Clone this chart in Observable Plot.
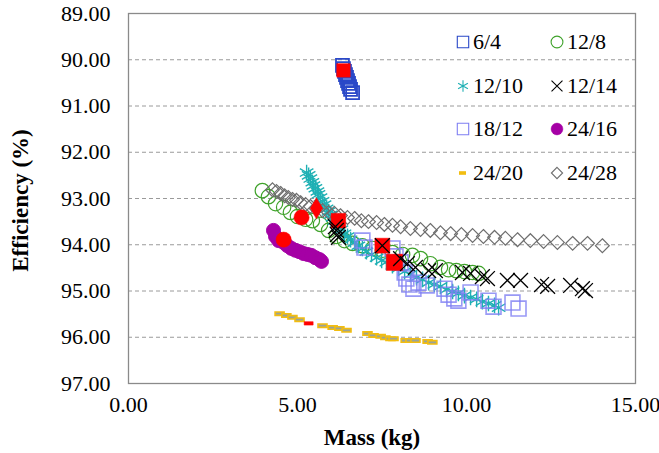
<!DOCTYPE html>
<html><head><meta charset="utf-8">
<script src="https://cdn.jsdelivr.net/npm/d3@7"></script>
<script src="https://cdn.jsdelivr.net/npm/@observablehq/plot@0.6"></script>
<style>
body{margin:0;background:#fff;}
#wrap{position:relative;width:659px;height:453px;font-family:"Liberation Serif","Times New Roman",serif;}
#legend{position:absolute;left:455px;top:20px;display:grid;grid-template-columns:94px 94px;grid-auto-rows:43.7px;font-size:22px;color:#000;font-family:"Liberation Serif","Times New Roman",serif;}
#legend .it{display:flex;align-items:center;}
#legend svg{display:block;margin-right:2px;}
</style></head><body><div id="wrap"></div>
<script>
// ---- data ----
const seriesNames = ["6/4","12/8","12/10","12/14","18/12","24/16","24/20","24/28"];
const xTicks = [0,5,10,15];
const yTicks = [89,90,91,92,93,94,95,96,97];

const mass_6_4 = [6.33,6.36,6.39,6.42,6.45,6.48,6.51,6.54,6.57,6.63];
const eff_6_4  = [90.12,90.19,90.25,90.32,90.38,90.45,90.51,90.58,90.64,90.71];

const mass_12_8 = [3.96,4.14,4.35,4.59,4.79,5.00,5.24,5.44,5.68,5.92,6.15,6.39,6.63,6.92,7.22,7.51,7.81,8.11,8.40,8.64,8.93,9.23,9.47,9.70,9.94,10.18,10.36];
const eff_12_8  = [92.83,92.96,93.11,93.19,93.30,93.39,93.45,93.48,93.56,93.69,93.82,93.91,93.97,94.02,94.08,94.12,94.17,94.21,94.23,94.30,94.41,94.49,94.54,94.56,94.58,94.60,94.62];

const mass_12_10 = [5.27,5.33,5.38,5.44,5.47,5.53,5.59,5.62,5.68,5.74,5.80,5.86,5.92,5.98,6.04,6.09,6.15,6.21,6.30,6.39,6.48,6.57,6.69,6.80,6.92,7.04,7.19,7.34,7.49,7.63,7.81,7.99,8.17,8.34,8.52,8.70,8.88,9.05,9.23,9.41,9.59,9.76,9.94,10.12,10.30,10.47,10.65,10.83,10.95];
const eff_12_10  = [92.44,92.50,92.57,92.65,92.72,92.78,92.85,92.91,92.98,93.06,93.13,93.22,93.28,93.35,93.41,93.48,93.54,93.61,93.67,93.76,93.82,93.89,93.95,94.02,94.08,94.15,94.21,94.28,94.34,94.38,94.45,94.51,94.58,94.64,94.71,94.75,94.82,94.86,94.90,94.97,95.01,95.05,95.10,95.14,95.18,95.23,95.27,95.31,95.36];

const mass_12_14 = [6.12,6.15,6.18,6.21,7.51,8.05,8.25,8.49,8.88,9.08,9.88,10.12,10.47,10.62,11.21,11.60,12.22,12.40,13.08,13.43,13.52];
const eff_12_14  = [93.61,93.69,93.78,93.84,94.02,94.30,94.41,94.49,94.56,94.56,94.60,94.62,94.69,94.73,94.77,94.77,94.86,94.90,94.88,94.95,94.99];

const mass_18_12 = [6.92,6.98,7.81,7.90,8.05,8.17,8.22,8.31,8.43,8.58,8.82,9.35,9.47,9.64,9.76,10.12,10.65,10.80,11.36,11.54];
const eff_18_12  = [93.91,94.06,94.08,94.25,94.38,94.60,94.73,94.86,94.95,94.82,94.88,94.95,95.08,95.16,95.21,95.03,95.21,95.34,95.25,95.38];

const mass_24_16 = [4.29,4.35,4.44,4.59,4.70,4.82,4.94,5.06,5.18,5.30,5.41,5.53,5.65,5.71];
const eff_24_16  = [93.69,93.82,93.91,93.95,94.02,94.08,94.12,94.15,94.19,94.21,94.23,94.28,94.32,94.36];

const mass_24_20 = [4.47,4.67,4.85,5.06,5.74,6.04,6.24,6.45,7.07,7.25,7.46,7.60,7.75,7.84,8.20,8.34,8.49,8.85,8.99];
const eff_24_20  = [95.49,95.53,95.57,95.62,95.75,95.79,95.81,95.85,95.92,95.96,95.98,96.01,96.03,96.03,96.07,96.07,96.07,96.09,96.11];

const mass_24_28 = [4.26,4.38,4.50,4.62,4.73,4.85,4.97,5.09,5.24,5.38,5.56,5.74,5.92,6.09,6.27,6.48,6.69,6.89,7.10,7.34,7.57,7.81,8.05,8.34,8.64,8.93,9.23,9.53,9.85,10.18,10.50,10.83,11.15,11.51,11.89,12.28,12.69,13.14,13.58,14.02];
const eff_24_28  = [92.81,92.85,92.89,92.94,92.98,93.02,93.04,93.09,93.13,93.17,93.22,93.26,93.30,93.32,93.37,93.41,93.43,93.48,93.50,93.52,93.56,93.58,93.61,93.65,93.67,93.69,93.74,93.76,93.78,93.80,93.82,93.84,93.86,93.89,93.91,93.93,93.95,93.97,93.97,94.02];

// highlighted (red) design points, one per series
const redSeries = ["6/4","12/8","12/10","12/14","18/12","24/16","24/20","24/28"];
const redMass   = [6.36,5.12,6.21,7.51,7.87,4.59,5.33,5.56];
const redEff    = [90.23,93.41,93.48,94.02,94.38,93.89,95.70,93.21];

// ---- build ----
const rows = (m, e) => m.map((x, i) => ({mass: x, eff: e[i]}));
const dashSymbol = {draw(ctx){ ctx.rect(-4.5, -1.7, 9, 3.4); }};

const style = {
  "6/4":   {symbol: "square",   r: 7.3, stroke: "#2a48c8", fill: "none", strokeWidth: 1.8},
  "12/8":  {symbol: "circle",   r: 7.2, stroke: "#3fa22a", fill: "none", strokeWidth: 1.2},
  "12/10": {symbol: "asterisk", r: 7.4, stroke: "#1fb0b4", fill: "none", strokeWidth: 1.4},
  "12/14": {symbol: "times",    r: 6.8, stroke: "#000000", fill: "none", strokeWidth: 1.3},
  "18/12": {symbol: "square",   r: 8.4, stroke: "#7f7ff2", fill: "none", strokeWidth: 1.6, strokeOpacity: 0.8},
  "24/16": {symbol: "circle",   r: 7.0, stroke: "#a500a5", fill: "#a500a5", strokeWidth: 1},
  "24/20": {symbol: dashSymbol, r: 4,   stroke: "#f2bd10", fill: "#9aa39a", strokeWidth: 1.6},
  "24/28": {symbol: "diamond2", r: 6.2, stroke: "#6e6e6e", fill: "none", strokeWidth: 1.2}
};
const redSymbol = {"6/4":"square","12/8":"circle","12/10":"square","12/14":"square","18/12":"square","24/16":"circle","24/20":dashSymbol,"24/28":"diamond"};
const redR = {"6/4":7.6,"12/8":7.6,"12/10":8.2,"12/14":8.4,"18/12":9.2,"24/16":7.6,"24/20":4,"24/28":6.4};

const data = {
  "6/4": rows(mass_6_4, eff_6_4),
  "12/8": rows(mass_12_8, eff_12_8),
  "12/10": rows(mass_12_10, eff_12_10),
  "12/14": rows(mass_12_14, eff_12_14),
  "18/12": rows(mass_18_12, eff_18_12),
  "24/16": rows(mass_24_16, eff_24_16),
  "24/20": rows(mass_24_20, eff_24_20),
  "24/28": rows(mass_24_28, eff_24_28)
};
const redRows = redSeries.map((s, i) => ({series: s, mass: redMass[i], eff: redEff[i]}));

const seriesMark = s => Plot.dot(data[s], {x: "mass", y: "eff", ...style[s]});
const redMarks = redRows.map(d => Plot.dot([d], {x: "mass", y: "eff", symbol: redSymbol[d.series], r: redR[d.series], fill: "#ff0000", stroke: "#ff0000", strokeWidth: 0.5}));

const fmt = d => d.toFixed(2);
const chart = Plot.plot({
  width: 659, height: 453,
  marginLeft: 128, marginRight: 24, marginTop: 13, marginBottom: 70,
  x: {domain: [0, 15]},
  y: {domain: [89, 97], reverse: true},
  style: {fontFamily: "Liberation Serif, Times New Roman, serif", fontSize: "22px", background: "#fff", color: "#000", overflow: "visible"},
  marks: [
    Plot.gridY(yTicks.slice(1, -1), {stroke: "#9a9a9a", strokeOpacity: 1, strokeDasharray: "4,3"}),
    Plot.frame({stroke: "#8a8a8a", strokeWidth: 1.3}),
    Plot.axisY(yTicks, {tickSize: 0, tickPadding: 18, tickFormat: fmt, label: null, fontSize: 22, fontFamily: "Liberation Serif"}),
    Plot.axisX(xTicks, {tickSize: 0, tickPadding: 13, tickFormat: fmt, label: null, fontSize: 22, fontFamily: "Liberation Serif"}),
    Plot.text(["Mass (kg)"], {frameAnchor: "bottom", lineAnchor: "middle", textAnchor: "middle", dy: 54, dx: -10, fontWeight: "bold", fontSize: 23}),
    Plot.text(["Efficiency (%)"], {frameAnchor: "left", lineAnchor: "middle", textAnchor: "middle", rotate: -90, dx: -108, dy: 2, fontWeight: "bold", fontSize: 23}),
    ...["6/4","12/8","12/10","18/12","24/16","24/20","24/28"].map(seriesMark),
    ...redMarks,
    seriesMark("12/14")
  ]
});
const wrap = document.getElementById("wrap");
wrap.appendChild(chart);

// ---- legend ----
const legend = document.createElement("div");
legend.id = "legend";
const symType = {"square": d3.symbolSquare, "circle": d3.symbolCircle, "asterisk": d3.symbolAsterisk, "times": d3.symbolTimes, "diamond2": d3.symbolDiamond2};
const legendSize = {"6/4": 130, "12/8": 110, "12/10": 90, "12/14": 80, "18/12": 130, "24/16": 110, "24/20": 0, "24/28": 80};
for (const s of seriesNames) {
  const it = document.createElement("div"); it.className = "it";
  const svg = d3.create("svg").attr("width", 16).attr("height", 16).attr("viewBox", "-8 -8 16 16");
  const st = style[s];
  if (s === "24/20") {
    svg.append("rect").attr("x", -4).attr("y", -1.8).attr("width", 7).attr("height", 3.6).attr("fill", "#f2bd10");
  } else {
    svg.append("path").attr("d", d3.symbol(symType[st.symbol], legendSize[s])())
      .attr("fill", st.fill).attr("stroke", st.stroke).attr("stroke-width", s === "24/16" ? 0.5 : 1.1);
  }
  it.appendChild(svg.node());
  const t = document.createElement("span"); t.textContent = s;
  it.appendChild(t);
  legend.appendChild(it);
}
wrap.appendChild(legend);
</script>
</body></html>
